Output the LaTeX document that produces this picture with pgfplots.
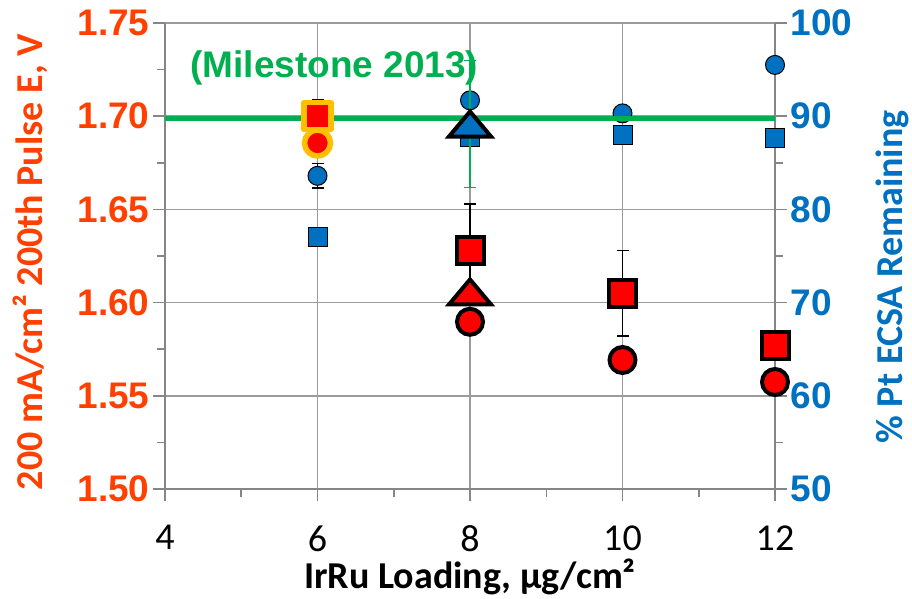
\documentclass[border=0pt]{standalone}
\usepackage{fontspec}
\setmainfont{Carlito}
\newfontfamily\arial{Liberation Sans}
\usepackage{pgfplots}
\pgfplotsset{compat=1.18}
\definecolor{vred}{RGB}{255,64,0}
\definecolor{xblue}{RGB}{0,112,192}
\definecolor{xgreen}{RGB}{0,176,80}
\definecolor{xgold}{RGB}{255,192,0}
\definecolor{xgrid}{RGB}{155,155,155}
\definecolor{xaxis}{RGB}{134,134,134}
\pgfdeclareplotmark{xltri}{%
 \pgfpathmoveto{\pgfqpoint{0pt}{12.5pt}}%
 \pgfpathlineto{\pgfqpoint{-21pt}{-12.5pt}}%
 \pgfpathlineto{\pgfqpoint{21pt}{-12.5pt}}%
 \pgfpathclose\pgfusepathqfillstroke}
\newcommand\tlfont{\arial\bfseries\fontsize{37}{44}\selectfont}
\newcommand\xtfont{\fontsize{38}{46}\selectfont}
\newcommand\labfont{\bfseries\fontsize{38}{46}\selectfont}
\pgfplotsset{base/.style={
  width=610pt, height=466pt, scale only axis, at={(0,0)}, anchor=south west,
  xmin=4, xmax=12, clip=false,
  /pgf/number format/assume math mode=true,
  axis line style={-, xaxis, line width=2pt},
  tick style={xaxis, line width=1.5pt},
  tick align=outside, major tick length=12pt, minor tick length=8pt,
}}
\pgfplotstableread{
x y ey
8 1.628 0.025
10 1.605 0.023
12 1.577 0
}\redsq
\pgfplotstableread{
x y
8 1.5897
10 1.5692
12 1.5574
}\redci
\pgfplotstableread{
x y ey
6 83.6 1.3
8 91.7 0
10 90.3 0
12 95.5 0
}\blueci
\pgfplotstableread{
x y
6 77.0
8 87.8
10 88.0
12 87.7
}\bluesq
\begin{document}
\begin{tikzpicture}
\useasboundingbox (-165pt,-110pt) rectangle (747pt,489pt);
% axis 1: left scale, grid, decorations
\begin{axis}[base, ymin=1.5, ymax=1.75,
  axis x line*=bottom, axis y line*=left,
  xtick={4,6,8,10,12}, ytick={1.50,1.55,1.60,1.65,1.70,1.75},
  minor x tick num=1, minor y tick num=1,
  grid=major, major grid style={xgrid, line width=1.5pt},
  y tick label style={/pgf/number format/fixed, /pgf/number format/fixed zerofill, /pgf/number format/precision=2},
  yticklabel style={font=\tlfont, text=vred},
  xticklabel style={font=\xtfont, text=black, yshift=-21pt},
  xlabel={IrRu Loading, µg/cm²},
  ylabel={200 mA/cm² 200th Pulse E, V},
  xlabel style={font=\labfont, text=black, at={(axis description cs:0.5,-0.188)}, anchor=center},
  ylabel style={font=\labfont, text=vred, at={(axis description cs:-0.221,0.487)}, anchor=center},
]
\end{axis}
% axis 2: right scale, blue series
\begin{axis}[base, ymin=50, ymax=100,
  axis y line*=right, axis x line=none,
  ytick={50,60,70,80,90,100}, minor y tick num=1,
  yticklabel style={font=\tlfont, text=xblue},
  ylabel={\% Pt ECSA Remaining},
  ylabel style={font=\labfont, text=xblue, at={(axis description cs:1.192,0.455)}, anchor=center},
]
\addplot[only marks, mark=square*, mark size=9.5pt, mark options={fill=xblue, draw=black, line width=1pt}] table[x=x,y=y]{\bluesq};
\addplot[only marks, mark=*, mark size=9.5pt, mark options={fill=xblue, draw=black, line width=1pt},
  error bars/.cd, y dir=both, y explicit,
  error bar style={black, line width=1.5pt},
  error mark options={rotate=90, mark size=6pt, line width=1.5pt, black}]
  table[x=x,y=y,y error=ey]{\blueci};
\end{axis}
% axis 3: left scale, red series, milestone, triangles
\begin{axis}[base, ymin=1.5, ymax=1.75, hide axis]
\addplot[only marks, mark=*, mark size=13pt, mark options={fill=red, draw=black, line width=4pt}] table[x=x,y=y]{\redci};
\addplot[only marks, mark=square*, mark size=13.5pt, mark options={fill=red, draw=black, line width=4pt},
  error bars/.cd, y dir=both, y explicit,
  error bar style={black, line width=1.5pt},
  error mark options={rotate=90, mark size=6pt, line width=1.5pt, black}]
  table[x=x,y=y,y error=ey]{\redsq};
\addplot[only marks, mark=square*, mark size=13.5pt, mark options={fill=red, draw=xgold, line width=5.5pt, line join=round},
  error bars/.cd, y dir=both, y explicit,
  error bar style={black, line width=1.5pt},
  error mark options={rotate=90, mark size=6pt, line width=1.5pt, black}]
  coordinates {(6,1.700) +- (0,0.009)};
\addplot[only marks, mark=*, mark size=13pt, mark options={fill=red, draw=xgold, line width=5.5pt}]
  coordinates {(6,1.6856)};
\addplot[xgreen, line width=5pt, no marks] coordinates {(4,1.699) (12,1.699)};
\node[font=\arial\bfseries\fontsize{37}{44}\selectfont, text=xgreen] at (axis cs:6.22,1.7259) {(Milestone 2013)};
\addplot[only marks, mark=xltri, mark options={fill=xblue, draw=black, line width=4pt},
  error bars/.cd, y dir=both, y explicit,
  error bar style={xgreen, line width=1.5pt},
  error mark options={rotate=90, mark size=6pt, line width=1.5pt, xgreen}]
  coordinates {(8,1.6958) +- (0,0.034)};
\addplot[only marks, mark=xltri, mark options={fill=red, draw=black, line width=4pt}]
  coordinates {(8,1.6057)};
\end{axis}
\end{tikzpicture}
\end{document}
